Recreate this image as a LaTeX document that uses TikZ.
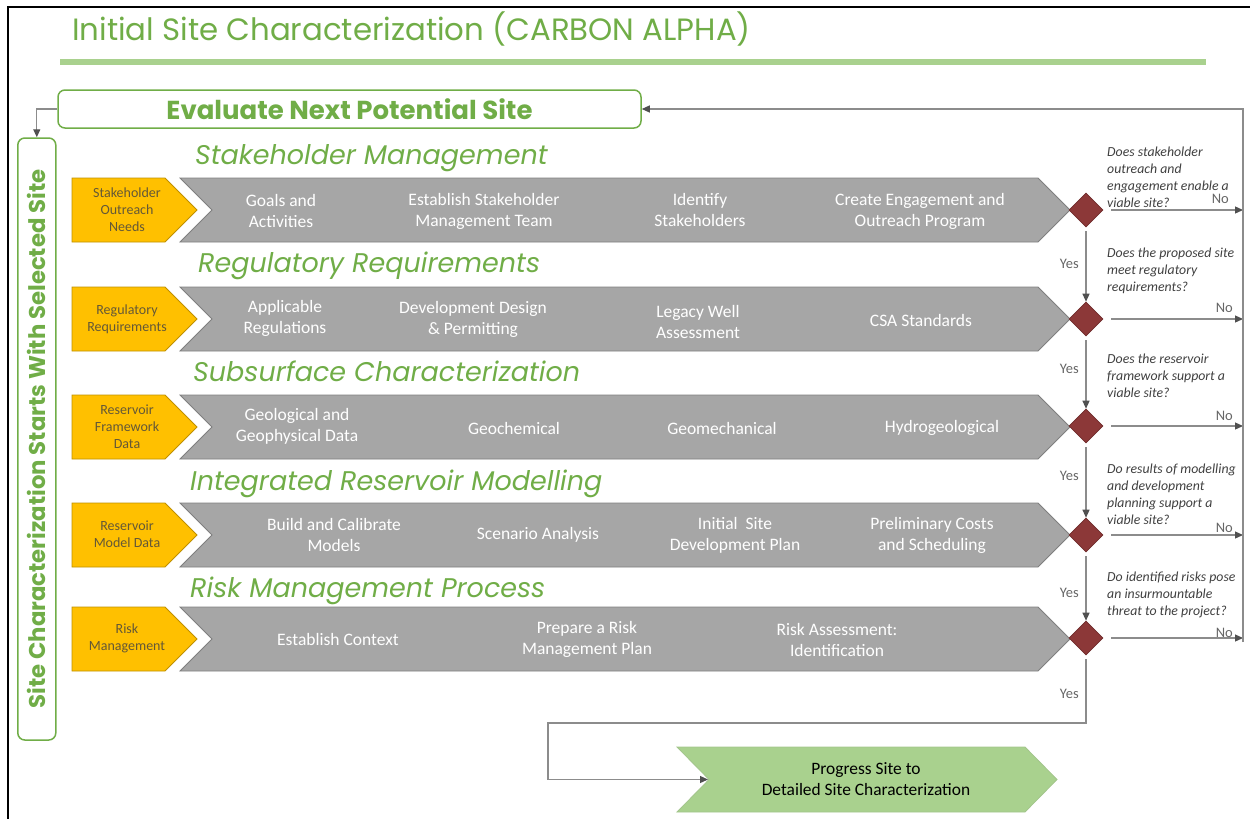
\documentclass[tikz,border=0pt]{standalone}
\usepackage{fontspec}
\usepackage{graphicx}
\setmainfont{Carlito}
\newfontfamily\gothic{Poppins}
\usetikzlibrary{arrows.meta,shapes.geometric}

\definecolor{ggreen}{RGB}{112,173,71}
\definecolor{lgreen}{RGB}{169,209,142}
\definecolor{gfill}{RGB}{166,166,166}
\definecolor{gline}{RGB}{127,127,127}
\definecolor{yfill}{RGB}{255,192,0}
\definecolor{yline}{RGB}{191,144,0}
\definecolor{ytext}{RGB}{100,88,55}
\definecolor{dred}{RGB}{140,56,56}
\definecolor{conncol}{RGB}{140,140,140}
\definecolor{tipcol}{RGB}{80,80,80}
\definecolor{qtext}{RGB}{64,64,64}

\tikzset{
  greenbox/.style={draw=ggreen, line width=1.5pt, rounded corners=7pt, inner sep=0pt},
  headtext/.style={anchor=base west, inner sep=0pt, text=ggreen,
    font=\gothic\itshape\fontsize{27}{30}\selectfont},
  graybox/.style={fill=gfill, draw=gline, line width=0.8pt},
  yellowbox/.style={fill=yfill, draw=yline, line width=0.8pt},
  greenarrow/.style={fill=lgreen, draw=lgreen!85!gray, line width=0.8pt},
  stage/.style={text=white, align=center, inner sep=0pt,
    font=\fontsize{17.5}{21}\selectfont},
  input/.style={text=ytext, align=center, inner sep=0pt,
    font=\fontsize{14}{17}\selectfont},
  question/.style={text=qtext, align=left, anchor=north west, inner sep=0pt,
    font=\itshape\fontsize{13.8}{17}\selectfont},
  answer/.style={text=qtext!80!white, anchor=base east, inner sep=0pt,
    font=\fontsize{14.5}{17}\selectfont},
  decision/.style={diamond, fill=dred, draw=dred!80!black, line width=0.6pt,
    minimum width=34pt, minimum height=34pt, inner sep=0pt},
  conn/.style={draw=conncol, line width=1.2pt,
    -{Triangle[length=8pt,width=7pt,color=tipcol]}},
  plain/.style={draw=conncol, line width=1.2pt}
}

\begin{document}
\begin{tikzpicture}[x=1pt,y=-1pt]
\useasboundingbox (0,0) rectangle (1250,819);

% page frame
\draw[line width=2.2pt] (8,819) -- (8,7) -- (1250,7);

% title and rule
\node[anchor=base west, inner sep=0pt, text=ggreen,
  font=\gothic\fontsize{30.8}{31}\selectfont] (title) at (72,40)
  {Initial Site Characterization (CARBON ALPHA)};
\draw[lgreen, line width=6pt] (60,61.5) -- (1206,61.5);

% outer loop boxes
\node[greenbox, minimum width=583pt, minimum height=38pt, text=ggreen,
  font=\gothic\bfseries\fontsize{26}{26}\selectfont] (eval) at (349.5,109)
  {Evaluate Next Potential Site};
\node[greenbox, rotate=90, minimum width=602pt, minimum height=38pt, text=ggreen,
  font=\gothic\bfseries\fontsize{22.8}{23}\selectfont] (start) at (36.8,439)
  {Site Characterization Starts With Selected Site};

% chevron rows
\foreach \yc in {210,319,427,535,639} {
  \draw[graybox] (180,{\yc-32}) -- (1038,{\yc-32}) -- (1070,\yc)
    -- (1038,{\yc+32}) -- (180,{\yc+32}) -- (212,\yc) -- cycle;
  \draw[yellowbox] (72,{\yc-32}) -- (165,{\yc-32}) -- (197,\yc)
    -- (165,{\yc+32}) -- (72,{\yc+32}) -- cycle;
}

% section headings
\node[headtext] (h1) at (195,164) {Stakeholder Management};
\node[headtext] (h2) at (198,272) {Regulatory Requirements};
\node[headtext] (h3) at (193,381) {Subsurface Characterization};
\node[headtext] (h4) at (190,490) {Integrated Reservoir Modelling};
\node[headtext] (h5) at (190,597) {Risk Management Process};

% inputs
\node[input] (i1) at (127,210) {Stakeholder\\Outreach\\Needs};
\node[input] (i2) at (127,319) {Regulatory\\Requirements};
\node[input] (i3) at (127,427) {Reservoir\\Framework\\Data};
\node[input] (i4) at (127,534) {Reservoir\\Model Data};
\node[input] (i5) at (127,638) {Risk\\Management};

% stages
\node[stage] (s11) at (281,211) {Goals and\\Activities};
\node[stage] (s12) at (484,211) {Establish Stakeholder\\Management Team};
\node[stage] (s13) at (700,210) {Identify\\Stakeholders};
\node[stage] (s14) at (920,211) {Create Engagement and\\Outreach Program};

\node[stage] (s21) at (285,318) {Applicable\\Regulations};
\node[stage] (s22) at (473,319) {Development Design\\\& Permitting};
\node[stage] (s23) at (698,322) {Legacy Well\\Assessment};
\node[stage] (s24) at (921,320) {CSA Standards};

\node[stage] (s31) at (297,426) {Geological and\\Geophysical Data};
\node[stage] (s32) at (514,428) {Geochemical};
\node[stage] (s33) at (722,428) {Geomechanical};
\node[stage] (s34) at (942,428) {Hydrogeological};

\node[stage] (s41) at (334,535) {Build and Calibrate\\Models};
\node[stage] (s42) at (538,535) {Scenario Analysis};
\node[stage] (s43) at (735,535) {Initial\ \ Site\\Development Plan};
\node[stage] (s44) at (932,535) {Preliminary Costs\\and Scheduling};

\node[stage] (s51) at (338,639) {Establish Context};
\node[stage] (s52) at (587,639) {Prepare a Risk\\Management Plan};
\node[stage] (s53) at (837,640) {Risk Assessment:\\Identification};

% decisions
\node[decision] (d1) at (1086,210) {};
\node[decision] (d2) at (1086,319) {};
\node[decision] (d3) at (1086,426) {};
\node[decision] (d4) at (1086,535) {};
\node[decision] (d5) at (1086,638) {};

% questions
\node[question] (q1) at (1107,147) {Does stakeholder\\outreach and\\engagement enable a\\viable site?};
\node[question] (q2) at (1107,248) {Does the proposed site\\meet regulatory\\requirements?};
\node[question] (q3) at (1107,354) {Does the reservoir\\framework support a\\viable site?};
\node[question] (q4) at (1107,464) {Do results of modelling\\and development\\planning support a\\viable site?};
\node[question] (q5) at (1107,572) {Do identified risks pose\\an insurmountable\\threat to the project?};

% final outcome
\draw[greenarrow] (677,747) -- (1025,747) -- (1057,779.5) -- (1025,812)
  -- (677,812) -- (709,779.5) -- cycle;
\node[align=center, inner sep=0pt, font=\fontsize{17.4}{21}\selectfont] (prog)
  at (866,779.5) {Progress Site to\\Detailed Site Characterization};

% helper coordinates for the return path
\coordinate (rx) at (1243,0);
\coordinate (ret) at (1243,642);
\coordinate (b1) at (1086,723);
\coordinate (b2) at (548,723);
\coordinate (notch) at (708,779.5);

% yes connectors
\draw[conn, shorten <=4pt] (d1.south) -- (d2.north);
\draw[conn, shorten <=4pt] (d2.south) -- (d3.north);
\draw[conn, shorten <=4pt] (d3.south) -- (d4.north);
\draw[conn, shorten <=4pt] (d4.south) -- (d5.north);
\draw[conn, shorten <=4pt] (d5.south) -- (b1) -- (b2) |- (notch);

% no connectors
\draw[conn] ([xshift=8pt]d1.east) -- (d1.east -| rx);
\draw[conn] ([xshift=8pt]d2.east) -- (d2.east -| rx);
\draw[conn] ([xshift=8pt]d3.east) -- (d3.east -| rx);
\draw[conn] ([xshift=8pt]d4.east) -- (d4.east -| rx);
\draw[conn] ([xshift=8pt]d5.east) -- (d5.east -| rx);
\draw[conn] (ret) |- (eval.east);
\draw[conn] (eval.west) -| (start.east);

% answer labels
\node[answer] (y1) at (1079,268) {Yes};
\node[answer] (y2) at (1079,373) {Yes};
\node[answer] (y3) at (1079,480) {Yes};
\node[answer] (y4) at (1079,597) {Yes};
\node[answer] (y5) at (1079,698) {Yes};
\node[answer] (n1) at (1229,203) {No};
\node[answer] (n2) at (1233,312) {No};
\node[answer] (n3) at (1233,420) {No};
\node[answer] (n4) at (1233,532) {No};
\node[answer] (n5) at (1233,637) {No};
\end{tikzpicture}
\end{document}
